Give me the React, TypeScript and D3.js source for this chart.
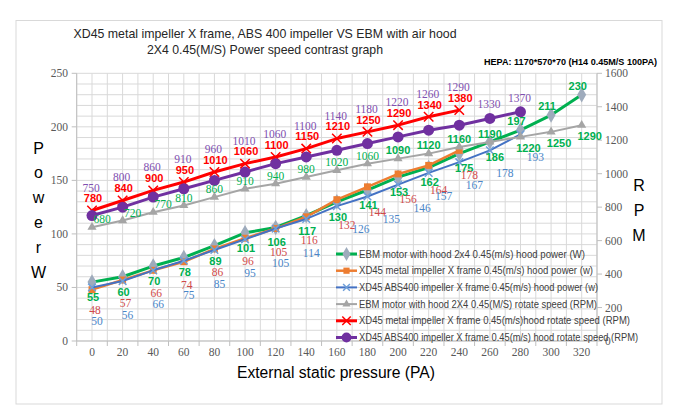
import React from 'react';
import * as d3 from 'd3';

const pressure = [0, 20, 40, 60, 80, 100, 120, 140, 160, 180, 200, 220, 240, 260, 280, 300, 320];
const ebmPower = [55, 60, 70, 78, 89, 101, 106, 117, 130, 141, 153, 162, 175, 186, 197, 211, 230];
const metalPower = [48, 57, 66, 74, 86, 96, 105, 116, 132, 144, 156, 164, 178];
const absPower = [50, 56, 66, 75, 85, 95, 105, 114, 126, 135, 146, 157, 167, 178, 193];
const ebmSpeed = [680, 720, 770, 810, 860, 910, 940, 980, 1020, 1060, 1090, 1120, 1160, 1190, 1220, 1250, 1290];
const metalSpeed = [780, 840, 900, 950, 1010, 1060, 1100, 1150, 1210, 1250, 1290, 1340, 1380];
const absSpeed = [750, 800, 860, 910, 960, 1010, 1060, 1100, 1140, 1180, 1220, 1260, 1290, 1330, 1370];

const powerTicks = [0, 50, 100, 150, 200, 250];
const speedTicks = [0, 200, 400, 600, 800, 1000, 1200, 1400, 1600];

const legendNames = [
  'EBM motor with hood 2x4 0.45(m/s) hood power  (W)',
  'XD45 metal impeller X frame 0.45(m/s) hood power  (w)',
  'XD45 ABS400 impeller X frame 0.45(m/s) hood power (w)',
  'EBM motor with hood 2X4 0.45(M/S) rotate speed (RPM)',
  'XD45 metal impeller X frame 0.45(m/s)hood rotate speed  (RPM)',
  'XD45 ABS400 impeller X frame 0.45(m/s) hood rotate speed (RPM)',
];

const SANS = '"Liberation Sans", Arial, sans-serif';
const SERIF = '"Liberation Serif", "Times New Roman", serif';

export default function App() {
  const left = 76.7, right = 597, top = 73.3, bottom = 341;
  const x = d3.scalePoint<string>().domain(pressure.map(String)).range([left, right]).padding(0.5);
  const step = x.step();
  const yL = d3.scaleLinear().domain([0, 250]).range([bottom, top]);
  const yR = d3.scaleLinear().domain([0, 1600]).range([bottom, top]);
  const px = (i: number) => x(String(pressure[i])) as number;

  type Lab = (i: number, v: number) => { dx: number; y: number; bold: boolean; color: string };

  const series = [
    {
      values: ebmPower, scale: yL, color: '#00b050', width: 3, sym: d3.symbolDiamond, size: 70,
      mFill: '#9eabbc', mStroke: 'none',
      label: ((i, v) => i < 14
        ? { dx: i >= 12 ? 5 : 1, y: yL(v) + 15, bold: true, color: '#00b050' }
        : { dx: -4, y: yL(v) - 9, bold: true, color: '#00b050' }) as Lab,
    },
    {
      values: metalPower, scale: yL, color: '#ed7d31', width: 2.5, sym: d3.symbolSquare, size: 48,
      mFill: '#ed7d31', mStroke: 'none',
      label: ((i, v) => ({ dx: i < 8 ? 3 : 10, y: yL(v) + (i === 0 ? 20 : i < 8 ? 23 : 25), bold: false, color: '#d04a4a' })) as Lab,
    },
    {
      values: absPower, scale: yL, color: '#4472c4', width: 2, sym: d3.symbolX, size: 40,
      mFill: 'none', mStroke: '#6f9fd8',
      label: ((i, v) => i < 8
        ? { dx: 5, y: yL(v) + 34, bold: false, color: '#4a86c8' }
        : { dx: i < 11 ? 24 : 15, y: yL(v) + 23, bold: false, color: '#4a86c8' }) as Lab,
    },
    {
      values: ebmSpeed, scale: yR, color: '#a5a5a5', width: 2, sym: d3.symbolTriangle, size: 36,
      mFill: '#a5a5a5', mStroke: 'none',
      label: ((i, v) => i < 3
        ? { dx: 10, y: yR(v) - 8, bold: false, color: '#00b050' }
        : i < 14
          ? { dx: 0, y: yR(v) - 8, bold: i >= 10, color: '#00b050' }
          : { dx: 8, y: yR(v) + 11, bold: true, color: '#00b050' }) as Lab,
    },
    {
      values: metalSpeed, scale: yR, color: '#ff0000', width: 3, sym: d3.symbolX, size: 60,
      mFill: 'none', mStroke: '#ff0000',
      label: ((i, v) => ({ dx: 1, y: yR(v) - 12, bold: true, color: '#ff0000' })) as Lab,
    },
    {
      values: absSpeed, scale: yR, color: '#7030a0', width: 3, sym: d3.symbolCircle, size: 95,
      mFill: '#7030a0', mStroke: 'none',
      label: ((i, v) => ({
        dx: -1,
        y: i < metalSpeed.length ? yR(metalSpeed[i]) - 23 : yR(v) - 14,
        bold: false, color: '#7f50b0',
      })) as Lab,
    },
  ];

  const vGrid = d3.range(0, 35).map(k => left + (k * step) / 2);
  const hGrid = d3.range(0, 260, 10);
  const xTicks = d3.range(0, 18).map(k => left + k * step);

  const legendY0 = 254, legendDy = 16.7;
  const legendEnds = [585, 593, 598, 597, 630, 638];

  return (
    <svg width={700} height={419} style={{ position: 'absolute', left: 0, top: 0, background: '#fff' }}>
      <rect x={0} y={0} width={700} height={419} fill="#fff" />
      <rect x={16} y={20.5} width={646} height={383.5} fill="#fff" stroke="#d9d9d9" strokeWidth={1} />

      {/* titles */}
      <text x={265} y={37.5} textAnchor="middle" fontFamily={SANS} fontSize={13} fill="#262626"
        textLength={383} lengthAdjust="spacingAndGlyphs">
        XD45 metal impeller X frame, ABS 400 impeller VS EBM with air hood
      </text>
      <text x={265} y={53.5} textAnchor="middle" fontFamily={SANS} fontSize={13} fill="#262626"
        textLength={236} lengthAdjust="spacingAndGlyphs">
        2X4 0.45(M/S) Power speed contrast graph
      </text>
      <text x={484} y={65} fontFamily={SANS} fontSize={8.5} fontWeight="bold" fill="#000"
        textLength={173} lengthAdjust="spacingAndGlyphs">
        HEPA:  1170*570*70 (H14  0.45M/S  100PA)
      </text>

      {/* grid */}
      <g stroke="#d9d9d9" strokeWidth={1}>
        {vGrid.map((gx, k) => <line key={'v' + k} x1={gx} x2={gx} y1={top} y2={bottom} />)}
        {hGrid.map(v => <line key={'h' + v} x1={left} x2={right} y1={yL(v)} y2={yL(v)} />)}
      </g>

      {/* axes */}
      <g stroke="#bfbfbf" strokeWidth={1}>
        <line x1={left} x2={left} y1={top} y2={bottom} />
        <line x1={right} x2={right} y1={top} y2={bottom} />
        <line x1={left} x2={right} y1={bottom} y2={bottom} />
        {xTicks.map((tx, k) => <line key={'xt' + k} x1={tx} x2={tx} y1={bottom} y2={bottom + 5} />)}
        {powerTicks.map(v => <line key={'lt' + v} x1={left - 5} x2={left} y1={yL(v)} y2={yL(v)} />)}
        {speedTicks.map(v => <line key={'rt' + v} x1={right} x2={right + 5} y1={yR(v)} y2={yR(v)} />)}
      </g>

      <g fontFamily={SERIF} fontSize={11.5} fill="#595959">
        {powerTicks.map(v => (
          <text key={'ll' + v} x={68} y={yL(v)} dy="0.35em" textAnchor="end">{v}</text>
        ))}
        {speedTicks.map(v => (
          <text key={'rl' + v} x={605} y={yR(v)} dy="0.35em" textAnchor="start">{v}</text>
        ))}
        {pressure.map((p, i) => (
          <text key={'xl' + p} x={px(i)} y={352} dy="0.35em" textAnchor="middle">{p}</text>
        ))}
      </g>

      {/* axis titles */}
      <g fontFamily={SANS} fontSize={16} fill="#000" textAnchor="middle">
        {['P', 'o', 'w', 'e', 'r', 'W'].map((c, k) => (
          <text key={'pw' + k} x={38.5} y={148 + k * 24.8} dy="0.35em">{c}</text>
        ))}
        {['R', 'P', 'M'].map((c, k) => (
          <text key={'rpm' + k} x={639} y={185 + k * 25} dy="0.35em">{c}</text>
        ))}
        <text x={336} y={372} dy="0.35em" textLength={198} lengthAdjust="spacingAndGlyphs">
          External static pressure (PA)
        </text>
      </g>

      {/* lines */}
      {series.map((s, si) => {
        const line = d3.line<number>().x((d, i) => px(i)).y(d => s.scale(d));
        const sym = d3.symbol().type(s.sym).size(s.size)();
        return (
          <g key={'s' + si}>
            <path d={line(s.values) || ''} fill="none" stroke={s.color} strokeWidth={s.width} strokeLinejoin="round" />
            {s.values.map((v, i) => (
              <path key={i} d={sym || ''} transform={`translate(${px(i)},${s.scale(v)})`}
                fill={s.mFill} stroke={s.mStroke} strokeWidth={1.5} />
            ))}
          </g>
        );
      })}

      {/* data labels */}
      {series.map((s, si) => (
        <g key={'lab' + si}>
          {s.values.map((v, i) => {
            const l = s.label(i, v);
            return (
              <text key={i} x={px(i) + l.dx} y={l.y} dy="0.35em" textAnchor="middle"
                fontFamily={l.bold ? SANS : SERIF} fontWeight={l.bold ? 'bold' : 'normal'}
                fontSize={l.bold ? 11 : 11.5} fill={l.color}>
                {v}
              </text>
            );
          })}
        </g>
      ))}

      {/* legend */}
      {series.map((s, si) => {
        const ly = legendY0 + si * legendDy;
        const sym = d3.symbol().type(s.sym).size(s.size * 0.8)();
        return (
          <g key={'lg' + si}>
            <line x1={336} x2={357} y1={ly} y2={ly} stroke={s.color} strokeWidth={s.width} />
            <path d={sym || ''} transform={`translate(${346.5},${ly})`} fill={s.mFill} stroke={s.mStroke} strokeWidth={1.5} />
            <text x={359} y={ly} dy="0.35em" fontFamily={SANS} fontSize={10} fill="#404040"
              textLength={legendEnds[si] - 359} lengthAdjust="spacingAndGlyphs">
              {legendNames[si]}
            </text>
          </g>
        );
      })}
    </svg>
  );
}
